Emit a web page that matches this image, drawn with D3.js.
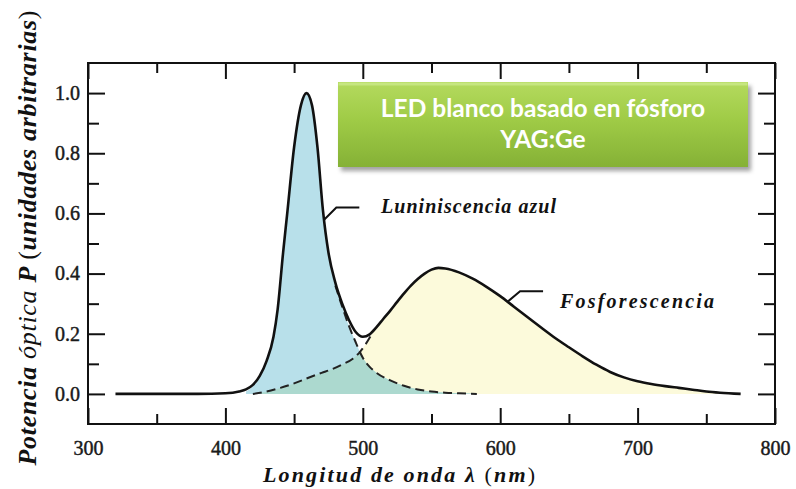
<!DOCTYPE html>
<html>
<head>
<meta charset="utf-8">
<script src="https://cdn.jsdelivr.net/npm/d3@7"></script>
<style>
  html, body { margin: 0; padding: 0; background: #fff; }
  svg { display: block; }
</style>
</head>
<body>
<svg id="chart" width="796" height="489"></svg>
<script>
// ---------- DATA ----------
const xMajorTicks = [300, 400, 500, 600, 700, 800];
const xMinorTicks = [350, 450, 550, 650, 750];
const yMajorTicks = [0.0, 0.2, 0.4, 0.6, 0.8, 1.0];
const yMinorTicks = [0.1, 0.3, 0.5, 0.7, 0.9];

// total emission (solid black)
const totalWl = [320, 340, 360, 380, 400, 410, 415, 420, 425, 430, 435, 438, 442, 445, 450, 455, 459, 463, 467, 471, 475, 480, 485, 490, 495, 500, 505, 510, 515, 520, 525, 530, 535, 540, 545, 550, 555, 560, 570, 580, 590, 600, 610, 620, 630, 640, 650, 660, 670, 680, 690, 700, 710, 720, 730, 740, 750, 760, 775];
const totalP  = [0, 0, 0, 0, 0.002, 0.008, 0.015, 0.03, 0.06, 0.11, 0.19, 0.28, 0.47, 0.6, 0.82, 0.96, 1.0, 0.96, 0.82, 0.61, 0.47, 0.37, 0.3, 0.245, 0.205, 0.19, 0.198, 0.222, 0.25, 0.277, 0.306, 0.334, 0.36, 0.382, 0.4, 0.413, 0.419, 0.417, 0.404, 0.383, 0.356, 0.325, 0.29, 0.255, 0.22, 0.186, 0.155, 0.125, 0.097, 0.073, 0.055, 0.042, 0.033, 0.026, 0.02, 0.014, 0.008, 0.004, 0];

// blue luminescence component (dashed / blue fill)
const blueWl = [415, 420, 425, 430, 435, 438, 442, 445, 450, 455, 459, 463, 467, 471, 475, 480, 485, 490, 495, 500, 505, 510, 520, 530, 540, 550, 560, 570, 583];
const blueP  = [0.008, 0.025, 0.055, 0.105, 0.185, 0.275, 0.465, 0.595, 0.815, 0.955, 0.995, 0.955, 0.815, 0.6, 0.46, 0.36, 0.29, 0.225, 0.17, 0.12, 0.09, 0.07, 0.045, 0.027, 0.015, 0.008, 0.004, 0.002, 0];

// phosphorescence component (dashed / yellow fill)
const phosWl = [420, 430, 440, 450, 460, 470, 478, 485, 493, 498, 502, 506, 510, 515, 520, 525, 530, 535, 540, 545, 550, 555, 560, 570, 580, 590, 600, 610, 620, 630, 640, 650, 660, 670, 680, 690, 700, 710, 720, 730, 740, 750, 760, 775];
const phosP  = [0, 0.008, 0.02, 0.035, 0.053, 0.07, 0.083, 0.098, 0.118, 0.14, 0.165, 0.195, 0.222, 0.25, 0.277, 0.306, 0.334, 0.36, 0.382, 0.4, 0.413, 0.419, 0.417, 0.404, 0.383, 0.356, 0.325, 0.29, 0.255, 0.22, 0.186, 0.155, 0.125, 0.097, 0.073, 0.055, 0.042, 0.033, 0.026, 0.02, 0.014, 0.008, 0.004, 0];

const titleLines = ["LED blanco basado en fósforo", "YAG:Ge"];
const labelBlue = "Luniniscencia azul";
const labelPhos = "Fosforescencia";
const labelBlueAt = 472;   // wavelength where the leader touches the curve
const labelPhosAt = 605;

// ---------- LAYOUT ----------
const svg = d3.select("#chart");
const L = 88, R = 775, T = 63, B = 424;
const x = d3.scaleLinear().domain([300, 800]).range([L, R]);
const y = d3.scaleLinear().domain([-0.1, 1.1]).range([B, T]);

const defs = svg.append("defs");
const grad = defs.append("linearGradient").attr("id", "gbox").attr("x1", 0).attr("y1", 0).attr("x2", 0).attr("y2", 1);
grad.append("stop").attr("offset", "0%").attr("stop-color", "#b4da5e");
grad.append("stop").attr("offset", "45%").attr("stop-color", "#9fcb46");
grad.append("stop").attr("offset", "100%").attr("stop-color", "#85b136");
const blur = defs.append("filter").attr("id", "shadow").attr("x", "-10%").attr("y", "-10%").attr("width", "130%").attr("height", "140%");
blur.append("feGaussianBlur").attr("stdDeviation", 2);

const pts = (wl, p) => wl.map((w, i) => [w, p[i]]);
const totalData = pts(totalWl, totalP);
const blueData = pts(blueWl, blueP);
const phosData = pts(phosWl, phosP);

const area = d3.area().x(d => x(d[0])).y0(y(0)).y1(d => y(d[1])).curve(d3.curveMonotoneX);
const line = d3.line().x(d => x(d[0])).y(d => y(d[1])).curve(d3.curveMonotoneX);

defs.append("clipPath").attr("id", "phosClip").append("path").attr("d", area(phosData));

// fills
svg.append("path").attr("d", area(phosData)).attr("fill", "#fcfadb");
svg.append("path").attr("d", area(blueData)).attr("fill", "#b8e0ea");
svg.append("path").attr("d", area(blueData)).attr("fill", "#acd9cf").attr("clip-path", "url(#phosClip)");

// dashed components
svg.append("path").attr("d", line(blueData.filter(d => d[0] >= 478)))
  .attr("fill", "none").attr("stroke", "#222").attr("stroke-width", 2).attr("stroke-dasharray", "9,5");
svg.append("path").attr("d", line(phosData.filter(d => d[0] <= 506)))
  .attr("fill", "none").attr("stroke", "#222").attr("stroke-width", 2).attr("stroke-dasharray", "9,5");

// total curve
svg.append("path").attr("d", line(totalData))
  .attr("fill", "none").attr("stroke", "#111").attr("stroke-width", 2.6);

// axes (ticks pointing inward on all four sides)
function styleAxis(g) {
  g.select(".domain").remove();
  g.selectAll(".tick line").attr("stroke", "#111").attr("stroke-width", 2);
  g.selectAll(".tick text").attr("font-family", "'Liberation Serif', 'Times New Roman', serif")
    .attr("font-size", 20).attr("fill", "#1a1a1a").attr("stroke", "#1a1a1a").attr("stroke-width", 0.45);
}
svg.append("g").attr("transform", `translate(0,${B})`)
  .call(d3.axisBottom(x).tickValues(xMajorTicks).tickSize(-16).tickPadding(17).tickFormat(d3.format("d"))).call(styleAxis);
svg.append("g").attr("transform", `translate(0,${B})`)
  .call(d3.axisBottom(x).tickValues(xMinorTicks).tickSize(-10).tickFormat("")).call(styleAxis);
svg.append("g").attr("transform", `translate(0,${T})`)
  .call(d3.axisTop(x).tickValues(xMajorTicks).tickSize(-16).tickFormat("")).call(styleAxis);
svg.append("g").attr("transform", `translate(0,${T})`)
  .call(d3.axisTop(x).tickValues(xMinorTicks).tickSize(-10).tickFormat("")).call(styleAxis);
svg.append("g").attr("transform", `translate(${L},0)`)
  .call(d3.axisLeft(y).tickValues(yMajorTicks).tickSize(-17).tickPadding(8).tickFormat(d3.format(".1f"))).call(styleAxis);
svg.append("g").attr("transform", `translate(${L},0)`)
  .call(d3.axisLeft(y).tickValues(yMinorTicks).tickSize(-11).tickFormat("")).call(styleAxis);
svg.append("g").attr("transform", `translate(${R},0)`)
  .call(d3.axisRight(y).tickValues(yMajorTicks).tickSize(-17).tickFormat("")).call(styleAxis);
svg.append("g").attr("transform", `translate(${R},0)`)
  .call(d3.axisRight(y).tickValues(yMinorTicks).tickSize(-11).tickFormat("")).call(styleAxis);

// frame
svg.append("rect").attr("x", L).attr("y", T).attr("width", R - L).attr("height", B - T)
  .attr("fill", "none").attr("stroke", "#111").attr("stroke-width", 2);

// axis titles
const serifIt = "'Liberation Serif', 'DejaVu Serif', serif";
const xt = svg.append("text").attr("x", 399).attr("y", 482).attr("text-anchor", "middle")
  .attr("font-family", serifIt).attr("font-size", 22).attr("font-style", "italic").attr("font-weight", "bold")
  .attr("fill", "#111").attr("textLength", 272).attr("lengthAdjust", "spacing");
xt.append("tspan").text("Longitud de onda λ ");
xt.append("tspan").attr("font-style", "normal").attr("font-weight", "normal").text("(");
xt.append("tspan").text("nm");
xt.append("tspan").attr("font-style", "normal").attr("font-weight", "normal").text(")");

const yt = svg.append("text").attr("transform", "translate(36,238) rotate(-90)").attr("text-anchor", "middle")
  .attr("font-family", serifIt).attr("font-size", 26).attr("font-style", "italic").attr("font-weight", "bold")
  .attr("fill", "#111").attr("textLength", 455).attr("lengthAdjust", "spacing");
yt.append("tspan").text("Potencia ");
yt.append("tspan").attr("font-weight", "normal").text("óptica");
yt.append("tspan").text(" P ");
yt.append("tspan").attr("font-style", "normal").attr("font-weight", "normal").text("(");
yt.append("tspan").text("unidades arbitrarias");
yt.append("tspan").attr("font-style", "normal").attr("font-weight", "normal").text(")");

// annotations
function leader(wl, pVal, dx1, dy1, len) {
  const x0 = x(wl), y0 = y(pVal);
  svg.append("polyline")
    .attr("points", [[x0, y0], [x0 + dx1, y0 + dy1], [x0 + dx1 + len, y0 + dy1]].map(p => p.join(",")).join(" "))
    .attr("fill", "none").attr("stroke", "#111").attr("stroke-width", 2);
}
leader(labelBlueAt, 0.58, 12, -12, 23);
leader(labelPhosAt, 0.305, 13, -11, 23);

svg.append("text").attr("x", 381).attr("y", 213).text(labelBlue)
  .attr("font-family", serifIt).attr("font-size", 20).attr("font-style", "italic").attr("font-weight", "bold")
  .attr("fill", "#111").attr("textLength", 175).attr("lengthAdjust", "spacing");
svg.append("text").attr("x", 560).attr("y", 308).text(labelPhos)
  .attr("font-family", serifIt).attr("font-size", 20).attr("font-style", "italic").attr("font-weight", "bold")
  .attr("fill", "#111").attr("textLength", 154).attr("lengthAdjust", "spacing");

// title box
const bx = 338, by = 82, bw = 410, bh = 85;
svg.append("rect").attr("x", bx + 3).attr("y", by + 4).attr("width", bw).attr("height", bh)
  .attr("fill", "#555").attr("opacity", 0.55).attr("filter", "url(#shadow)");
svg.append("rect").attr("x", bx).attr("y", by).attr("width", bw).attr("height", bh).attr("fill", "url(#gbox)");
svg.append("rect").attr("x", bx + 0.5).attr("y", by + 0.5).attr("width", bw - 1).attr("height", 3).attr("fill", "#cbe88a").attr("opacity", 0.8);
const tg = svg.append("g").attr("font-family", "Lato, 'Open Sans', sans-serif").attr("font-weight", "bold")
  .attr("font-size", 24.5).attr("fill", "#fff").attr("text-anchor", "middle");
titleLines.forEach((t, i) => {
  tg.append("text").attr("x", bx + bw / 2).attr("y", 117 + i * 31).text(t);
});
</script>
</body>
</html>
